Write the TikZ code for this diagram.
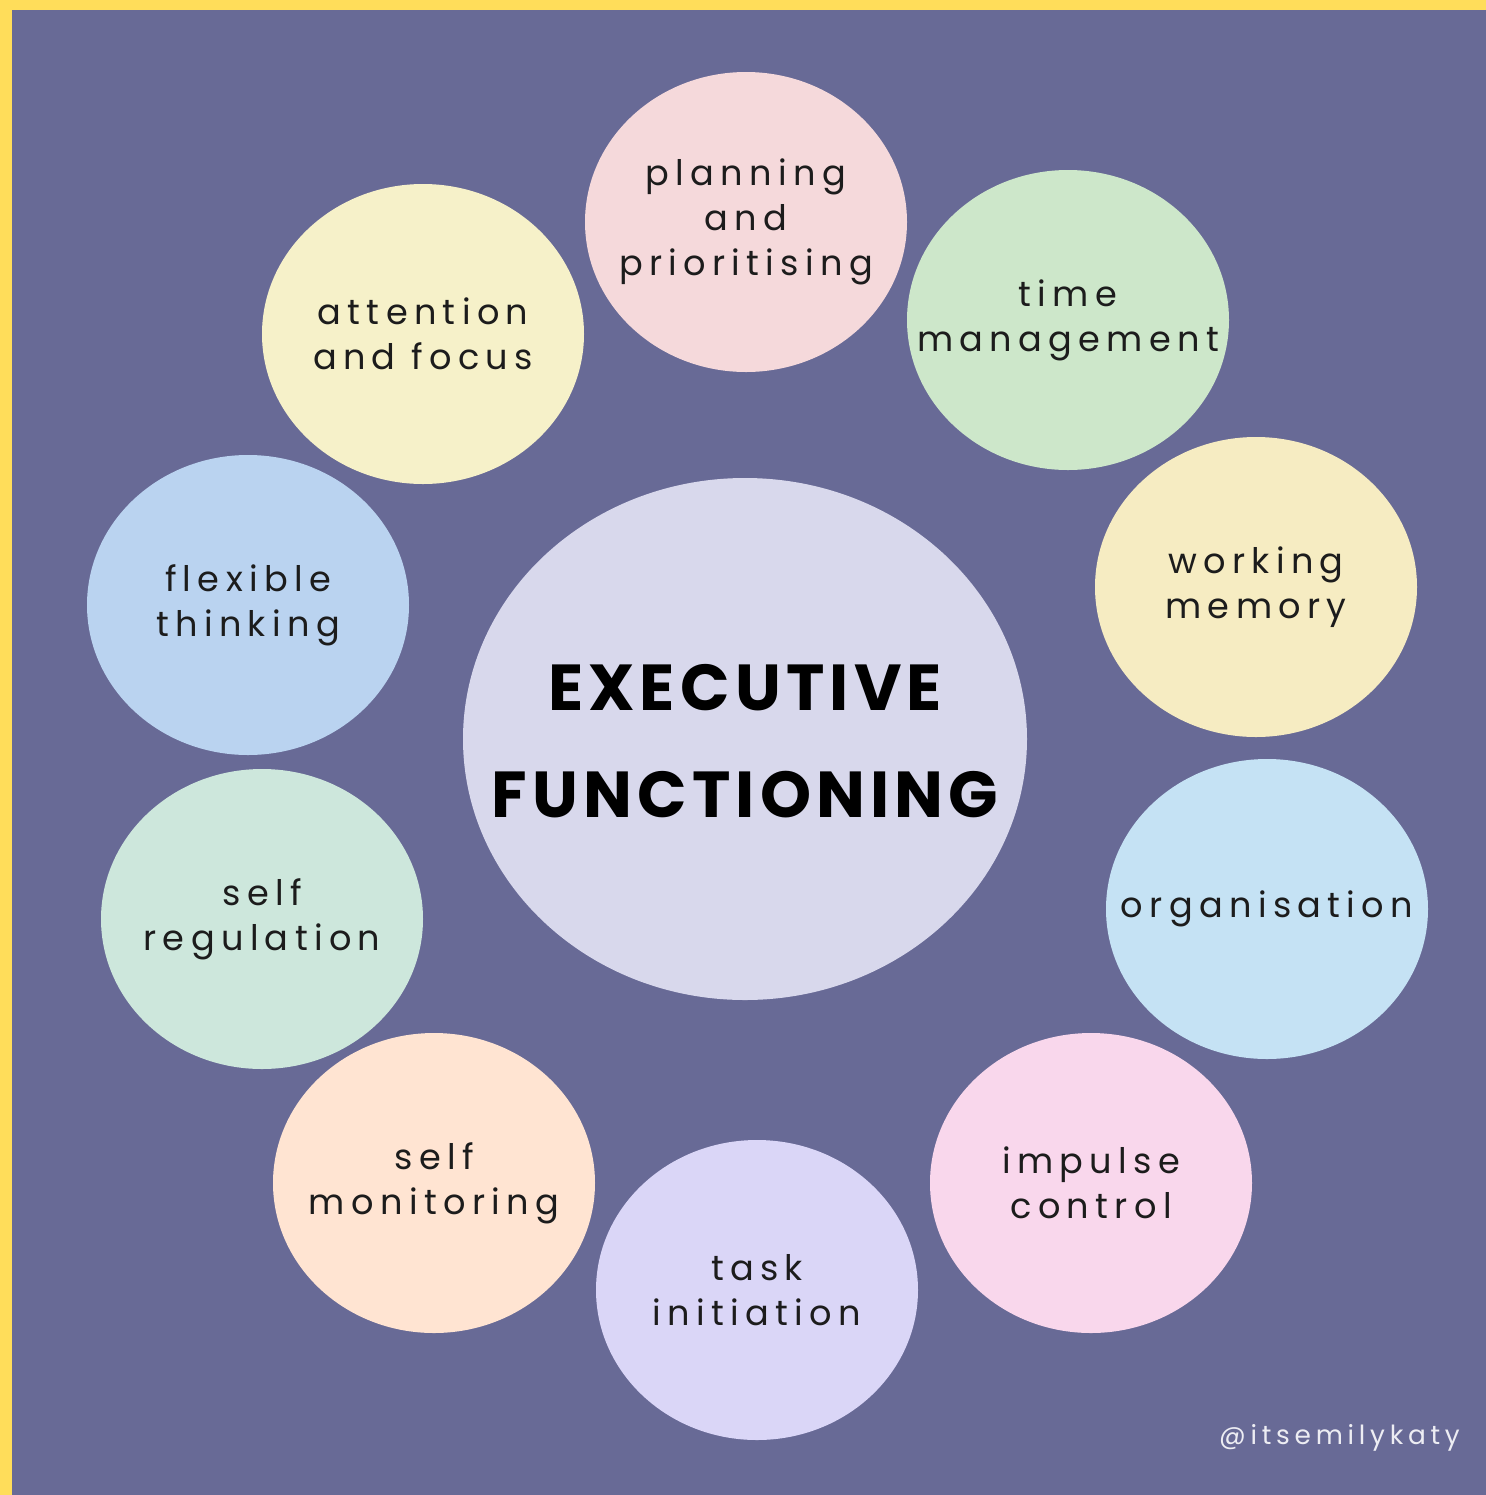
\documentclass[tikz,border=0pt]{standalone}
\usepackage{fontspec}
\newfontfamily\bubblefont[LetterSpace=18]{Poppins}
\newfontfamily\titlefont[LetterSpace=8]{Poppins Bold}

\definecolor{frameyellow}{HTML}{FFDD5A}
\definecolor{bgpurple}{HTML}{686A96}
\definecolor{inkdark}{HTML}{1C1C1C}
\definecolor{cPlan}{HTML}{F5D9DB}
\definecolor{cTime}{HTML}{CDE7CA}
\definecolor{cWork}{HTML}{F6ECC2}
\definecolor{cOrg}{HTML}{C5E2F4}
\definecolor{cImp}{HTML}{F9D7EC}
\definecolor{cTask}{HTML}{DAD6F7}
\definecolor{cMon}{HTML}{FFE4D2}
\definecolor{cReg}{HTML}{CDE7DC}
\definecolor{cFlex}{HTML}{BAD3F0}
\definecolor{cAtt}{HTML}{F6F1C9}
\definecolor{cCore}{HTML}{D8D8EC}

\tikzset{
  bubble/.style={inner sep=0pt, align=center, text=inkdark,
    font=\bubblefont\fontsize{20}{25.5}\selectfont},
  core/.style={inner sep=0pt, align=center, text=black,
    font=\titlefont\fontsize{37}{61}\selectfont}
}

% one round blob with its label
\newcommand{\blob}[4]{%
  \fill[#3] (#2) ellipse [x radius=161, y radius=150];
  \node[bubble] (#1) at (#2) {#4};}

\begin{document}
\begin{tikzpicture}[x=0.02cm,y=-0.02cm]
			\useasboundingbox (0,0) rectangle (1486,1495);
			\fill[frameyellow] (0,0) rectangle (1486,1495);
			\fill[bgpurple] (12,10) rectangle (1486,1495);
			% ring of bubbles
			\blob{plan}{746,222}{cPlan}{planning\\and\\prioritising}
			\blob{time}{1068,320}{cTime}{time\\management}
			\blob{work}{1256,587}{cWork}{working\\memory}
			\blob{org}{1267,909}{cOrg}{organisation}
			\blob{imp}{1091,1183}{cImp}{impulse\\control}
			\blob{task}{757,1290}{cTask}{task\\initiation}
			\blob{mon}{434,1183}{cMon}{self\\monitoring}
			\blob{reg}{262,919}{cReg}{self\\regulation}
			\blob{flex}{248,605}{cFlex}{flexible\\thinking}
			\blob{att}{423,334}{cAtt}{attention\\and focus}
			% centre
			\fill[cCore] (745,739) ellipse [x radius=282, y radius=261];
			\node[core] (exec) at (745,741) {EXECUTIVE\\FUNCTIONING};
			\node[text=white!88!bgpurple,font=\bubblefont\fontsize{15}{18}\selectfont,anchor=east] (tag) at (1466,1438) {@itsemilykaty};
		\end{tikzpicture}
\end{document}
